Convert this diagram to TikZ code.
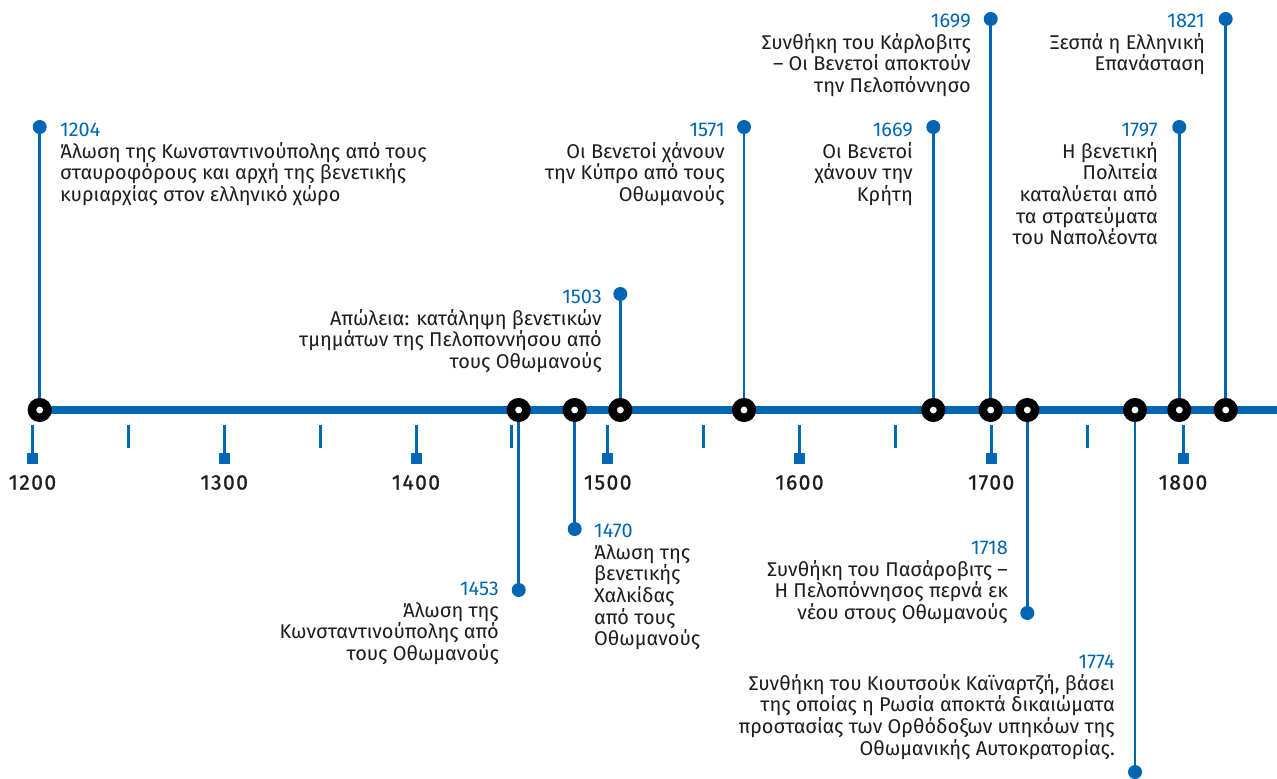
\documentclass[tikz,border=0pt]{standalone}
\usepackage{fontspec}
\setmainfont{Fira Sans}
\newfontfamily\tickfont{Fira Sans}[FakeBold=1.0,LetterSpace=7]
\definecolor{tlblue}{RGB}{0,102,179}
\definecolor{tltext}{RGB}{29,29,27}
\newcommand{\yr}[1]{\textcolor{tlblue}{#1}}
\begin{document}
\begin{tikzpicture}[x=1pt,y=-1pt,
  axisline/.style={line width=8pt,tlblue},
  ring/.style={circle,draw=black,fill=white,line width=8.5pt,minimum size=15.5pt,inner sep=0pt},
  evdot/.style={circle,fill=tlblue,minimum size=14pt,inner sep=0pt},
  stem/.style={line width=2.8pt,tlblue},
  tickline/.style={line width=3pt,tlblue},
  tsq/.style={rectangle,fill=tlblue,minimum size=11pt,inner sep=0pt},
  ticklabel/.style={font=\tickfont\fontsize{21}{24}\selectfont,text=tltext,inner sep=0pt},
  evtext/.style={font=\fontsize{19.9}{21.6}\selectfont,text=tltext,inner sep=0pt}
]
\useasboundingbox[fill=white] (0,0) rectangle (1277,779);

% axis
\coordinate (axstart) at (40,410);
\coordinate (axend) at (1277,410);
\draw[axisline] (axstart) -- (axend);

% major ticks
\foreach \k/\lab in {0/1200,1/1300,2/1400,3/1500,4/1600,5/1700,6/1800}{
  \coordinate (tt\lab) at ({32.5+191.75*\k},425);
  \node[tsq] (ts\lab) at ({32.5+191.75*\k},458.5) {};
  \draw[tickline] (tt\lab) -- (ts\lab);
  \node[ticklabel] (tl\lab) at ({32.5+191.75*\k},482.5) {\lab};
}
% minor ticks
\foreach \k in {0,...,5}{
  \coordinate (ma\k) at ({128.4+191.75*\k},425);
  \coordinate (mb\k) at ({128.4+191.75*\k},448);
  \draw[tickline] (ma\k) -- (mb\k);
}

% event markers
\foreach \name/\x/\y in {e1204/39.7/127, e1453/518.7/590, e1470/574.7/529, e1503/620.3/294,
  e1571/744/127, e1669/933.3/127, e1699/990.7/19, e1718/1027.3/613, e1774/1135/772,
  e1797/1179.3/127, e1821/1225.7/19}{
  \node[ring] (r\name) at (\x,410) {};
  \node[evdot] (d\name) at (\x,\y) {};
  \draw[stem] (r\name) -- (d\name);
}

% texts
\node[evtext,align=left,anchor=north west] (x1204) at (60,123)
  {\yr{1204}\\Άλωση της Κωνσταντινούπολης από τους\\σταυροφόρους και αρχή της βενετικής\\κυριαρχίας στον ελληνικό χώρο};
\node[evtext,align=right,anchor=north east] (x1453) at (499,582)
  {\yr{1453}\\Άλωση της\\Κωνσταντινούπολης από\\τους Οθωμανούς};
\node[evtext,align=left,anchor=north west] (x1470) at (594,524)
  {\yr{1470}\\Άλωση της\\βενετικής\\Χαλκίδας\\από τους\\Οθωμανούς};
\node[evtext,align=right,anchor=north east] (x1503) at (602,290)
  {\yr{1503}\\Απώλεια: κατάληψη βενετικών\\τμημάτων της Πελοποννήσου από\\τους Οθωμανούς};
\node[evtext,align=right,anchor=north east] (x1571) at (725,123)
  {\yr{1571}\\Οι Βενετοί χάνουν\\την Κύπρο από τους\\Οθωμανούς};
\node[evtext,align=right,anchor=north east] (x1669) at (913,123)
  {\yr{1669}\\Οι Βενετοί\\χάνουν την\\Κρήτη};
\node[evtext,align=right,anchor=north east] (x1699) at (971,14)
  {\yr{1699}\\Συνθήκη του Κάρλοβιτς\\– Οι Βενετοί αποκτούν\\την Πελοπόννησο};
\node[evtext,align=right,anchor=north east] (x1718) at (1008,541)
  {\yr{1718}\\Συνθήκη του Πασάροβιτς –\\Η Πελοπόννησος περνά εκ\\νέου στους Οθωμανούς};
\node[evtext,align=right,anchor=north east] (x1774) at (1115,655)
  {\yr{1774}\\Συνθήκη του Κιουτσούκ Καϊναρτζή, βάσει\\της οποίας η Ρωσία αποκτά δικαιώματα\\προστασίας των Ορθόδοξων υπηκόων της\\Οθωμανικής Αυτοκρατορίας.};
\node[evtext,align=right,anchor=north east] (x1797) at (1158,123)
  {\yr{1797}\\Η βενετική\\Πολιτεία\\καταλύεται από\\τα στρατεύματα\\του Ναπολέοντα};
\node[evtext,align=right,anchor=north east] (x1821) at (1205,14)
  {\yr{1821}\\Ξεσπά η Ελληνική\\Επανάσταση};
\end{tikzpicture}
\end{document}
